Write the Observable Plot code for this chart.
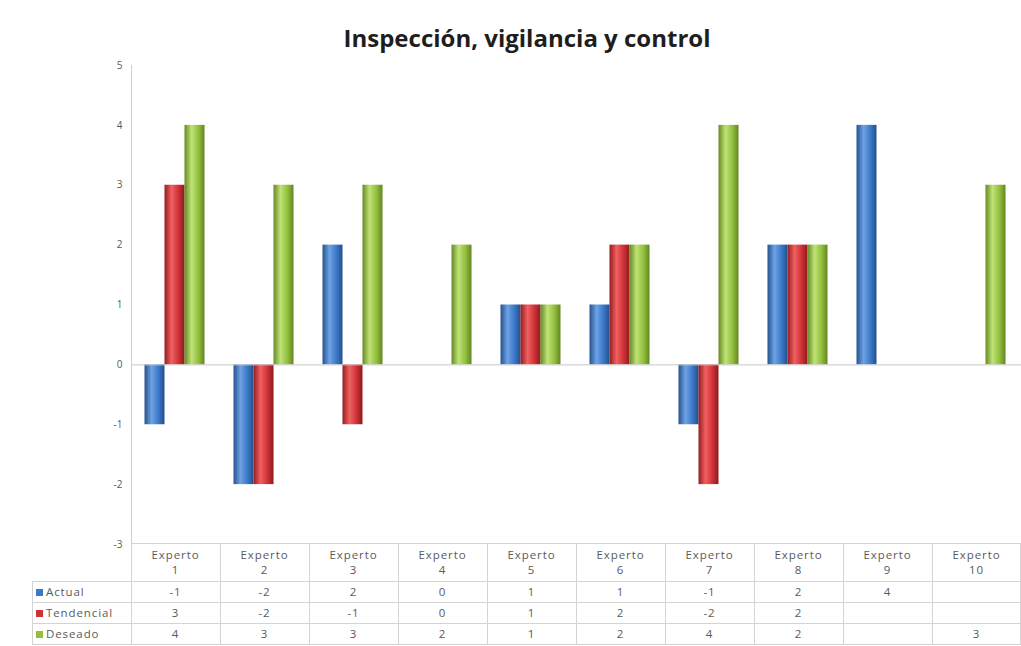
<!DOCTYPE html>
<html>
<head>
<meta charset="utf-8">
<script src="https://cdn.jsdelivr.net/npm/d3@7"></script>
<script src="https://cdn.jsdelivr.net/npm/@observablehq/plot@0.6"></script>
<style>
  html, body { margin: 0; padding: 0; background: #fff; }
  #wrap { position: relative; width: 1021px; height: 646px; overflow: hidden; font-family: "Open Sans", sans-serif; }
  #title { position: absolute; top: 21px; left: 0; width: 1054px; text-align: center; font: bold 24px "Open Sans", sans-serif; color: #1e1e1e; line-height: 33px; }
  #chart { position: absolute; top: 50px; left: 0; }
  .cell { position: absolute; text-align: center; font-size: 11.5px; letter-spacing: 0.9px; color: #5a5a5a; line-height: 15px; }
  .hl { position: absolute; height: 1px; background: #d4d4d4; }
  .vl { position: absolute; width: 1px; background: #d4d4d4; }
  .lab { position: absolute; font-size: 11.5px; letter-spacing: 0.9px; color: #5a5a5a; line-height: 21px; }
  .sw { display: inline-block; width: 7px; height: 7px; margin-right: 3px; vertical-align: 0px; }
</style>
</head>
<body>
<div id="wrap">
  <div id="title">Inspección, vigilancia y control</div>
  <div id="chart"></div>
</div>
<script>
const categories = ["Experto 1","Experto 2","Experto 3","Experto 4","Experto 5","Experto 6","Experto 7","Experto 8","Experto 9","Experto 10"];
const series = ["Actual","Tendencial","Deseado"];
const actual     = [-1, -2,  2, 0, 1, 1, -1, 2,    4, null];
const tendencial = [ 3, -2, -1, 0, 1, 2, -2, 2, null, null];
const deseado    = [ 4,  3,  3, 2, 1, 2,  4, 2, null,    3];
const yTicks = [-3,-2,-1,0,1,2,3,4,5];
const seriesColors = ["#3b78c8","#cf3236","#92bf3e"];
const gradStops = [
  ["#24528f","#6ea2e4","#3b78c8","#234f8a"],
  ["#951c20","#f06060","#cf3236","#8e1a1e"],
  ["#658a22","#bfe276","#92bf3e","#628620"]
];
const values = [actual, tendencial, deseado];

// gradient defs
const defsSvg = d3.select("body").append("svg").attr("width",0).attr("height",0).style("position","absolute");
const defs = defsSvg.append("defs");
gradStops.forEach((st, i) => {
  const g = defs.append("linearGradient").attr("id","g"+i).attr("x1",0).attr("x2",1).attr("y1",0).attr("y2",0);
  [[0,st[0]],[0.35,st[1]],[0.7,st[2]],[1,st[3]]].forEach(([o,c]) => g.append("stop").attr("offset",o).attr("stop-color",c));
});

const data = [];
series.forEach((s, si) => categories.forEach((c, ci) => {
  const v = values[si][ci];
  if (v !== null) data.push({cat: c, series: s, value: v});
}));

const plot = Plot.plot({
  width: 1021, height: 500,
  marginLeft: 131, marginRight: 0, marginTop: 15, marginBottom: 6,
  style: {fontFamily: "Open Sans, sans-serif", fontSize: "10px", color: "#5a5a5a"},
  fx: {domain: categories, padding: 0, axis: null},
  x: {domain: series, paddingInner: 0, paddingOuter: 0.72, axis: null},
  y: {domain: [-3, 5], ticks: yTicks, tickSize: 0, tickPadding: 9, label: null, tickFormat: d => String(d)},
  marks: [
    ...series.map((s, si) => Plot.barY(data.filter(d => d.series === s), {fx: "cat", x: "series", y: "value", fill: `url(#g${si})`, dx: -1.5})),
    Plot.ruleY([0], {stroke: "#c8c8c8"})
  ]
});
document.getElementById("chart").appendChild(plot);

// y axis line
const yS = plot.scale("y");
d3.select(plot).append("line")
  .attr("x1", 131.5).attr("x2", 131.5)
  .attr("y1", yS.apply(5)).attr("y2", yS.apply(-3))
  .attr("stroke", "#d0d0d0");

// data table below chart, aligned with fx scale
const fx = plot.scale("fx");
const wrap = document.getElementById("wrap");
const top0 = 50 + yS.apply(-3) - 1;
const headH = 38, rowH = 21;
const rowsTop = top0 + headH;
const bottom = rowsTop + 3 * rowH;
function add(cls, style, html) {
  const el = document.createElement("div");
  el.className = cls;
  Object.assign(el.style, style);
  if (html !== undefined) el.innerHTML = html;
  wrap.appendChild(el);
  return el;
}
const bw = fx.bandwidth;
const xStart = fx.apply(categories[0]);
add("hl", {left: xStart + "px", top: top0 + "px", width: (1021 - xStart) + "px"});
for (let r = 0; r <= 3; r++) {
  add("hl", {left: "32px", top: (rowsTop + r * rowH) + "px", width: (1021 - 32) + "px"});
}
add("vl", {left: "32px", top: rowsTop + "px", height: (3 * rowH) + "px"});
categories.forEach((c, ci) => {
  const x0 = fx.apply(c);
  add("vl", {left: x0 + "px", top: top0 + "px", height: (bottom - top0) + "px"});
  const parts = c.split(" ");
  add("cell", {left: x0 + "px", width: bw + "px", top: (top0 + 4) + "px"}, parts[0] + "<br>" + parts[1]);
  series.forEach((s, si) => {
    const v = values[si][ci];
    if (v !== null) add("cell", {left: x0 + "px", width: bw + "px", top: (rowsTop + si * rowH + 3) + "px"}, String(v));
  });
});
add("vl", {left: "1020px", top: top0 + "px", height: (bottom - top0) + "px"});
series.forEach((s, si) => {
  add("lab", {left: "36px", top: (rowsTop + si * rowH) + "px"},
    `<span class="sw" style="background:${seriesColors[si]}"></span>${s}`);
});
</script>
</body>
</html>
